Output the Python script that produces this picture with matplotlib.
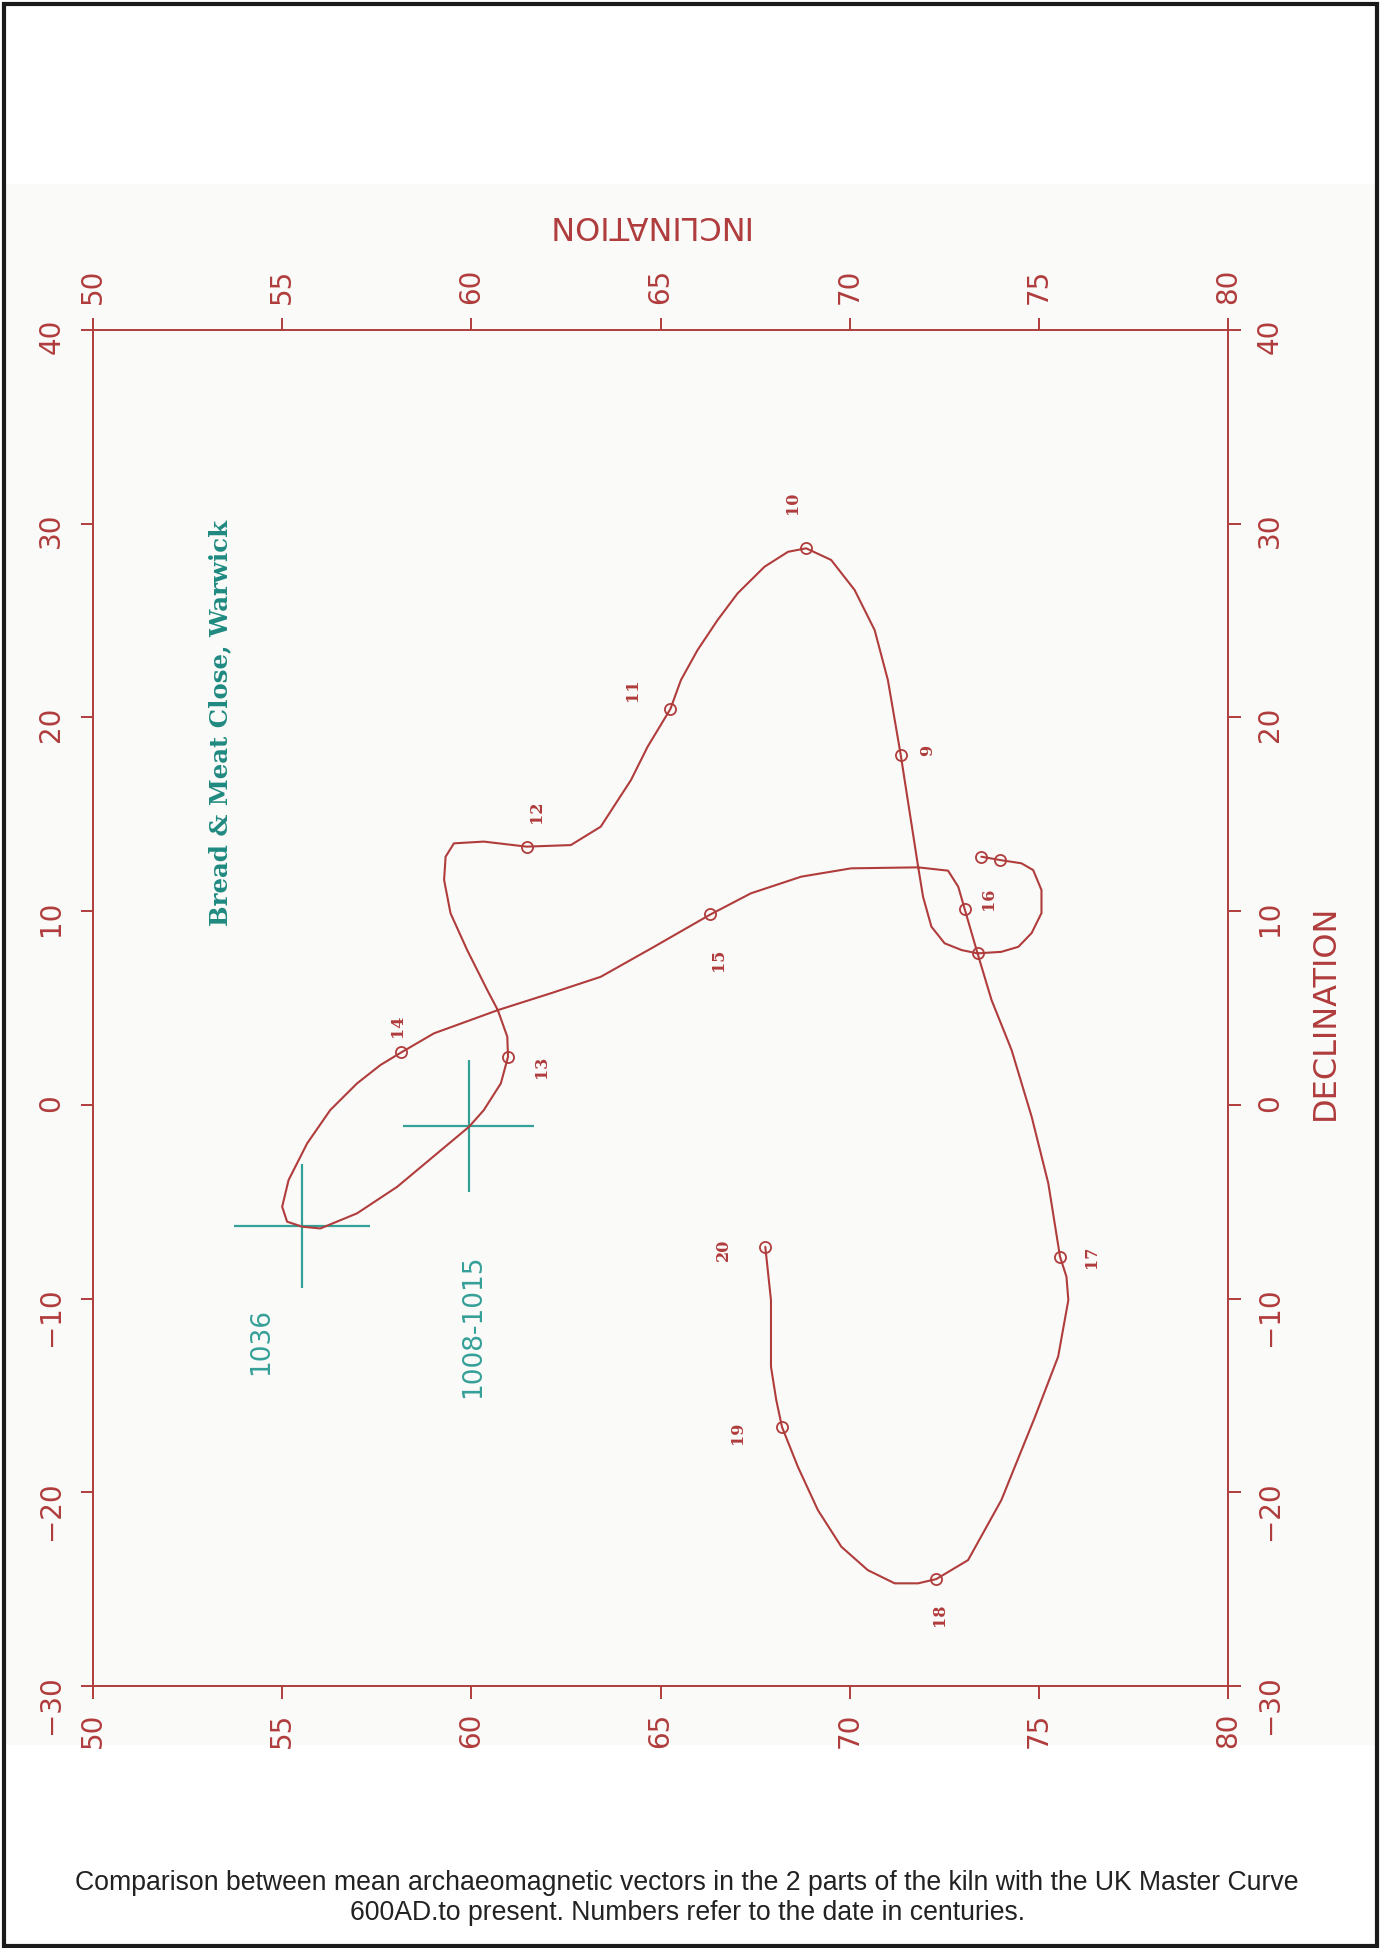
import matplotlib
matplotlib.use("Agg")
import matplotlib.pyplot as plt
from matplotlib import font_manager
from matplotlib.patches import Rectangle

# UK master curve (inclination, declination), 600AD -> present
curve_inc = [73.48, 73.97, 74.54, 74.85, 75.07, 75.07, 74.81, 74.46, 74.01, 73.38,
             72.96, 72.51, 72.16, 71.94, 71.81, 71.59, 71.35,
             71.01, 70.66, 70.13, 69.51, 68.85,
             68.37, 67.75, 67.04, 66.51, 65.98, 65.54, 65.26,
             64.66, 64.22, 63.42, 62.63, 61.46,
             60.33, 59.54, 59.32, 59.28, 59.45, 59.89, 60.42, 60.70, 60.95, 60.97,
             60.78, 60.33, 59.94, 59.10, 58.04, 56.98, 56.01, 55.53, 55.13, 55.00,
             55.17, 55.66, 56.27, 56.98, 57.60, 58.15,
             59.01, 60.70, 62.10, 63.42, 64.83, 66.32,
             67.39, 68.72, 70.04, 71.81, 72.60, 72.87, 73.04,
             73.38, 73.75, 74.28, 74.81, 75.25, 75.56,
             75.73, 75.78, 75.51, 74.90, 74.01, 73.13, 72.29,
             71.81, 71.19, 70.48, 69.78, 69.16, 68.63, 68.21,
             68.06, 67.92, 67.92, 67.77]
curve_dec = [12.81, 12.64, 12.47, 12.12, 11.09, 9.90, 8.87, 8.16, 7.90, 7.82,
             7.99, 8.34, 9.20, 10.74, 12.29, 15.05, 18.06,
             21.93, 24.51, 26.58, 28.13, 28.73,
             28.55, 27.78, 26.41, 25.03, 23.48, 21.93, 20.43,
             18.49, 16.77, 14.36, 13.41, 13.33,
             13.59, 13.50, 12.81, 11.61, 9.89, 7.99, 5.93, 4.89, 3.52, 2.48,
             1.11, -0.27, -1.13, -2.50, -4.23, -5.60, -6.38, -6.29, -6.03, -5.26,
             -3.88, -1.99, -0.27, 1.11, 2.06, 2.71,
             3.69, 4.89, 5.76, 6.61, 8.16, 9.83,
             10.92, 11.78, 12.21, 12.26, 12.09, 11.26, 10.11,
             7.82, 5.41, 2.83, -0.61, -4.05, -7.84,
             -8.87, -10.08, -13.00, -16.10, -20.40, -23.50, -24.48,
             -24.70, -24.70, -24.02, -22.81, -20.92, -18.68, -16.62,
             -15.24, -13.52, -10.08, -7.33]

# century points on the curve
century = [6, 7, 8, 9, 10, 11, 12, 13, 14, 15, 16, 17, 18, 19, 20]
cent_inc = [73.48, 73.97, 73.38, 71.35, 68.85, 65.26, 61.46, 60.97, 58.15, 66.32,
            73.04, 75.56, 72.29, 68.21, 67.77]
cent_dec = [12.81, 12.64, 7.82, 18.06, 28.73, 20.43, 13.33, 2.48, 2.71, 9.83,
            10.11, -7.84, -24.48, -16.62, -7.33]
labelled = [9, 10, 11, 12, 13, 14, 15, 16, 17, 18, 19, 20]

# mean archaeomagnetic vectors of the two kiln parts
site_names = ["1036", "1008-1015"]
site_inc = [55.52, 59.93]
site_dec = [-6.25, -1.10]
site_inc_err = [1.80, 1.73]
site_dec_err = [3.20, 3.40]

inc_ticks = [50, 55, 60, 65, 70, 75, 80]
dec_ticks = [-30, -20, -10, 0, 10, 20, 30, 40]

RED = "#b03c3c"
TEAL = "#35a098"
TEAL_DARK = "#1f8a80"

names = {f.name for f in font_manager.fontManager.ttflist}
if "Liberation Sans Narrow" in names:
    NARROW = "Liberation Sans Narrow"
    tick_fs, title_fs, site_fs = 28, 30, 26
else:
    NARROW = "DejaVu Sans"
    tick_fs, title_fs, site_fs = 20, 23, 19

fig = plt.figure(figsize=(13.81, 19.48), dpi=100)
# faint grey of the scanned sheet
fig.patches.append(Rectangle((6 / 1381, 1 - 1745 / 1948), 1369 / 1381, 1561 / 1948,
                             transform=fig.transFigure, lw=0, fc="#fafaf9",
                             zorder=-5))

ax = fig.add_axes([93 / 1381, 262 / 1948, 1135 / 1381, 1356 / 1948])
ax.patch.set_alpha(0)

ax.plot(curve_inc, curve_dec, color=RED, lw=1.5, zorder=3,
        solid_joinstyle="round", solid_capstyle="round")
ax.plot(cent_inc, cent_dec, ls="none", marker="o", ms=8, mfc="none",
        mec=RED, mew=1.3, zorder=4)

# label offsets in points (dx, dy)
offsets = {9: (19, 3), 10: (-10, 33), 11: (-27, 14), 12: (7, 25), 13: (24, -7),
           14: (-3, 19), 15: (6, -33), 16: (17, 7), 17: (23, 0), 18: (2, -26),
           19: (-32, -4), 20: (-30, -2)}
for c, xi, yi in zip(century, cent_inc, cent_dec):
    if c in labelled:
        ax.annotate(str(c), (xi, yi), xytext=offsets[c], textcoords="offset points",
                    ha="center", va="center", rotation=90, color=RED,
                    fontsize=11.5, fontweight="bold", family="DejaVu Serif")

ax.errorbar(site_inc, site_dec, xerr=site_inc_err, yerr=site_dec_err, fmt="none",
            ecolor=TEAL, elinewidth=1.6, capsize=0, zorder=2)
site_offsets = [(-29, -83), (3, -144)]
for name, xi, yi, off in zip(site_names, site_inc, site_dec, site_offsets):
    ax.annotate(name, (xi, yi), xytext=off, textcoords="offset points",
                ha="center", va="center", rotation=90, color=TEAL,
                fontsize=site_fs, family=NARROW)

ax.text(0.112, 0.71, "Bread & Meat Close, Warwick", transform=ax.transAxes,
        rotation=90, ha="center", va="center", color=TEAL_DARK, fontsize=17.6,
        fontweight="bold", family="DejaVu Serif")

ax.set_xlim(50, 80)
ax.set_ylim(-30, 40)
ax.set_xticks(inc_ticks)
ax.set_yticks(dec_ticks)
for s in ax.spines.values():
    s.set_color(RED)
    s.set_linewidth(1.4)
ax.tick_params(direction="out", length=9, width=1.4, color=RED, labelcolor=RED,
               top=True, right=True, labeltop=True, labelright=True,
               labelsize=tick_fs, labelrotation=90)
ax.xaxis.set_tick_params(pad=10)
ax.yaxis.set_tick_params(pad=11)
for lab in ax.get_xticklabels() + ax.get_yticklabels():
    lab.set_family(NARROW)

ax.text(0.487, 1.078, "INCLINATION", transform=ax.transAxes, rotation=180,
        ha="center", va="center", color=RED, fontsize=title_fs, family=NARROW)
ax.text(1.086, 0.497, "DECLINATION", transform=ax.transAxes, rotation=90,
        ha="center", va="center", color=RED, fontsize=title_fs, family=NARROW)

fig.text(0.4975, 1 - 1883 / 1948,
         "Comparison between mean archaeomagnetic vectors in the 2 parts of the kiln with the UK Master Curve",
         ha="center", va="center", fontsize=19.2, family="Liberation Sans", color="#222222")
fig.text(0.4975, 1 - 1913 / 1948,
         "600AD.to present. Numbers refer to the date in centuries.",
         ha="center", va="center", fontsize=19.2, family="Liberation Sans", color="#222222")

fig.patches.append(Rectangle((4 / 1381, 2 / 1948), 1373 / 1381, 1942 / 1948,
                             transform=fig.transFigure, fill=False, lw=3,
                             ec="#1a1a1a"))

fig.savefig("out.png", dpi=100, facecolor="white")
